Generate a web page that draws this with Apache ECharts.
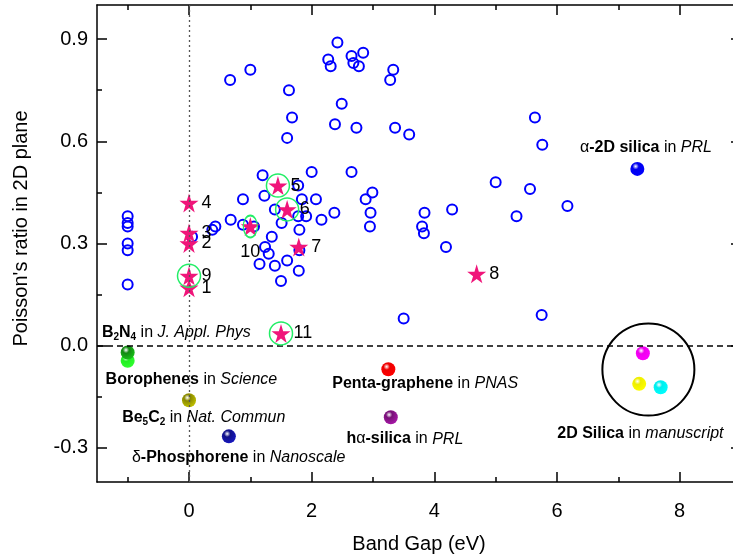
<!DOCTYPE html>
<html>
<head>
<meta charset="utf-8">
<script src="https://cdn.jsdelivr.net/npm/echarts@6/dist/echarts.min.js"></script>
<style>
html,body{margin:0;padding:0;background:#fff;}
#content{width:733px;height:557px;}
</style>
</head>
<body>
<div id="content"></div>
<script>
// 轴刻度
var xMajor = [0, 2, 4, 6, 8];
var xMinor = [-1, 1, 3, 5, 7];
var yMajor = [-0.3, 0, 0.3, 0.6, 0.9];
var yMinor = [-0.15, 0.15, 0.45, 0.75];

// 空心圆: [band gap, poisson ratio]
var openCircles = [
  [0.67,0.78],[1.00,0.81],[1.63,0.75],[1.68,0.67],[1.60,0.61],[2.42,0.89],[2.27,0.84],
  [2.31,0.82],[2.49,0.71],[2.38,0.65],[1.20,0.50],[2.00,0.51],[2.65,0.85],[2.84,0.86],
  [2.68,0.83],[2.77,0.82],[3.33,0.81],[3.28,0.78],[2.73,0.64],[3.36,0.64],[3.59,0.62],
  [5.64,0.67],[5.76,0.59],[2.65,0.51],[5.00,0.48],
  [-1,0.38],[-1,0.36],[-1,0.35],[-1,0.30],[-1,0.28],[-1,0.18],
  [1.78,0.47],[0.88,0.43],[1.23,0.44],[1.84,0.43],[2.07,0.43],[1.40,0.40],[1.78,0.38],
  [1.91,0.38],[2.16,0.37],[2.37,0.39],[0.68,0.37],[0.38,0.34],[0.43,0.35],[0.88,0.355],
  [1.51,0.36],[1.80,0.34],[1.35,0.32],[1.24,0.29],[1.30,0.27],[1.80,0.28],[1.15,0.24],
  [1.40,0.235],[1.60,0.25],[1.79,0.22],[1.50,0.19],[5.56,0.46],[6.17,0.41],[2.99,0.45],
  [2.88,0.43],[2.96,0.39],[2.95,0.35],[3.84,0.39],[3.80,0.35],[3.83,0.33],[4.29,0.40],
  [5.34,0.38],[4.19,0.29],[3.50,0.08],[5.75,0.09],[1.06,0.35],[0.05,0.32]
];

// 五角星 (编号)
var starNames = ['1','2','3','4','5','6','7','8','9','10','11'];
var starX = [0, 0, 0, 0, 1.45, 1.60, 1.79, 4.69, 0, 1.00, 1.50];
var starY = [0.17, 0.30, 0.331, 0.419, 0.47, 0.40, 0.29, 0.211, 0.205, 0.35, 0.036];
// 绿圈
var ringNames = ['5','6','9','10','11'];

// 彩色小球
var ballNames = ['B2N4','Borophenes','Be5C2','Phosphorene','Penta','ha-silica','a-2D','silica1','silica2','silica3'];
var ballX = [-1.0, -1.0, 0, 0.65, 3.25, 3.29, 7.31, 7.40, 7.34, 7.69];
var ballY = [-0.044, -0.02, -0.16, -0.266, -0.069, -0.21, 0.519, -0.022, -0.112, -0.122];
var ballColors = ['#22ee22','#118811','#888800','#111188','#ee0000','#771177','#0000ee','#ee00ee','#eeee00','#00eeee'];

// 文字注释
var noteX = [-1.42, -1.36, -1.09, -0.93, 3.85, 3.52, 7.45, 7.36];
var noteY = [0.039, -0.10, -0.21, -0.328, -0.11, -0.274, 0.582, -0.257];
var noteText = [
  '{b|B}{s|2}{b|N}{s|4}{n| in }{i|J. Appl. Phys}',
  '{b|Borophenes}{n| in }{i|Science}',
  '{b|Be}{s|5}{b|C}{s|2}{n| in }{i|Nat. Commun}',
  '{n|δ}{b|-Phosphorene}{n| in }{i|Nanoscale}',
  '{b|Penta-graphene}{n| in }{i|PNAS}',
  '{b|h}{n|α}{b|-silica}{n| in }{i|PRL}',
  '{n|α}{b|-2D silica}{n| in }{i|PRL}',
  '{b|2D Silica}{n| in }{i|manuscript}'
];
var noteAlign = ['left','left','left','left','center','center','center','center'];

var font = 'Liberation Sans, Arial, sans-serif';
var starPath = 'path://M50,0 L61,35 L98,35 L68,57 L79,91 L50,70 L21,91 L32,57 L2,35 L39,35 Z';

function ball(c) {
  return {
    type: 'radial', x: 0.38, y: 0.32, r: 0.75,
    colorStops: [
      {offset: 0, color: '#ffffff'},
      {offset: 0.3, color: c},
      {offset: 1, color: echarts.color.lift(c, -0.45)}
    ]
  };
}

function xAx(pos, ticks, len, showLine, showLabel) {
  return {
    type: 'value', position: pos, min: -1.5, max: 9, gridIndex: 0,
    axisLine: {show: showLine, onZero: false, lineStyle: {color: '#000', width: 1.5}},
    axisTick: {show: true, inside: true, length: len, customValues: ticks, lineStyle: {color: '#000', width: 1.5}},
    axisLabel: {show: showLabel, customValues: ticks, fontSize: 20, color: '#000', fontFamily: font, margin: 19},
    splitLine: {show: false}
  };
}
function yAx(pos, ticks, len, showLine, showLabel) {
  return {
    type: 'value', position: pos, min: -0.4, max: 1.0, gridIndex: 0,
    axisLine: {show: showLine, onZero: false, lineStyle: {color: '#000', width: 1.5}},
    axisTick: {show: true, inside: true, length: len, customValues: ticks, lineStyle: {color: '#000', width: 1.5}},
    axisLabel: {show: showLabel, customValues: ticks, fontSize: 20, color: '#000', fontFamily: font, margin: 9,
      formatter: function (v) { return v.toFixed(1); }},
    splitLine: {show: false}
  };
}

var xAxes = [
  xAx('bottom', xMajor, 10, true, true),
  xAx('bottom', xMinor, 5, false, false),
  xAx('top', xMajor, 10, true, false),
  xAx('top', xMinor, 5, false, false)
];
xAxes[0].name = 'Band Gap (eV)';
xAxes[0].nameLocation = 'middle';
xAxes[0].nameGap = 52;
xAxes[0].nameTextStyle = {fontSize: 20, color: '#000', fontFamily: font};

var yAxes = [
  yAx('left', yMajor, 10, true, true),
  yAx('left', yMinor, 5, false, false),
  yAx('right', yMajor, 10, true, false),
  yAx('right', yMinor, 5, false, false)
];
yAxes[0].name = "Poisson's ratio in 2D plane";
yAxes[0].nameLocation = 'middle';
yAxes[0].nameGap = 66;
yAxes[0].nameTextStyle = {fontSize: 20, color: '#000', fontFamily: font, padding: [0, 0, 0, 30]};

var starData = starX.map(function (x, i) {
  var d = {name: starNames[i], value: [x, starY[i]]};
  if (starNames[i] === '10') d.label = {position: 'bottom', distance: 7};
  return d;
});
var ringData = ringNames.map(function (n) {
  var i = starNames.indexOf(n);
  return {value: [starX[i], starY[i]], symbolSize: n === '10' ? [14, 22] : 23};
});
var ballData = ballX.map(function (x, i) {
  return {name: ballNames[i], value: [x, ballY[i]], itemStyle: {color: ball(ballColors[i])}};
});
var noteData = noteX.map(function (x, i) {
  return {value: [x, noteY[i]], label: {formatter: noteText[i], align: noteAlign[i]}};
});

var myChart = echarts.init(document.getElementById('content'));
myChart.setOption({
  animation: false,
  grid: {left: 97, top: 5, width: 644, height: 477, containLabel: false, outerBoundsMode: 'none'},
  xAxis: xAxes,
  yAxis: yAxes,
  series: [
    {
      type: 'scatter', name: 'guide', data: [],
      markLine: {
        silent: true, symbol: 'none', label: {show: false},
        data: [
          {xAxis: 0, lineStyle: {color: '#555', type: [2, 3], width: 1.3}},
          {yAxis: 0, lineStyle: {color: '#000', type: [6, 4], width: 1.5}}
        ]
      }
    },
    {
      type: 'scatter', name: 'open', data: openCircles, symbol: 'circle', symbolSize: 10,
      itemStyle: {color: 'rgba(0,0,0,0)', borderColor: '#0000ff', borderWidth: 2, opacity: 1}
    },
    {
      type: 'scatter', name: 'big circle', data: [[7.49, -0.07]], symbol: 'circle', symbolSize: 92,
      itemStyle: {color: 'rgba(0,0,0,0)', borderColor: '#000', borderWidth: 2, opacity: 1}
    },
    {
      type: 'scatter', name: 'balls', data: ballData, symbol: 'circle', symbolSize: 14, z: 3,
      itemStyle: {opacity: 1}
    },
    {
      type: 'scatter', name: 'stars', data: starData, symbol: starPath, symbolSize: 19, z: 4,
      itemStyle: {color: '#f0157a', opacity: 1},
      label: {show: true, position: 'right', distance: 3, formatter: '{b}', fontSize: 18, color: '#000', fontFamily: font}
    },
    {
      type: 'scatter', name: 'rings', data: ringData, symbol: 'circle', z: 5,
      itemStyle: {color: 'rgba(0,0,0,0)', borderColor: '#22ee66', borderWidth: 1.5, opacity: 1}
    },
    {
      type: 'scatter', name: 'notes', data: noteData, symbolSize: 1, z: 6,
      itemStyle: {color: 'rgba(0,0,0,0)'},
      label: {
        show: true, position: 'inside', verticalAlign: 'middle', color: '#000', opacity: 1,
        rich: {
          b: {fontSize: 16, fontWeight: 'bold', color: '#000', fontFamily: font},
          n: {fontSize: 16, color: '#000', fontFamily: font},
          i: {fontSize: 16, fontStyle: 'italic', color: '#000', fontFamily: font},
          s: {fontSize: 10, fontWeight: 'bold', color: '#000', fontFamily: font, padding: [10, 0, 0, 0]}
        }
      }
    }
  ]
});
</script>
</body>
</html>
